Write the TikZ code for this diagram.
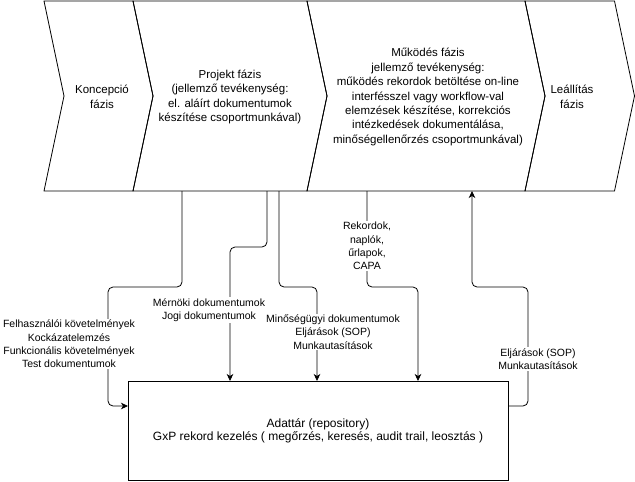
\documentclass[tikz,border=0pt]{standalone}
\usepackage{fontspec}
\setmainfont{Liberation Sans}
\usetikzlibrary{arrows.meta}

\tikzset{
    phase/.style={align=center, font=\fontsize{11.5}{14.4}\selectfont},
    doclabel/.style={align=center, fill=white, inner sep=1pt, font=\fontsize{10.5}{13.4}\selectfont},
    conn/.style={line width=0.8pt, rounded corners=5pt, -{Stealth[length=7pt, width=6.5pt, inset=2pt]}}
}

\begin{document}
\begin{tikzpicture}[x=1pt, y=-1pt]
        \useasboundingbox (0,0) rectangle (635,482);

        \foreach \a/\b in {44/133, 133/307, 307/525, 525/614.5}
        {
            \draw [line width=0.8pt] (\a,1) -- (\b,1) -- (\b+20,96) -- (\b,191) -- (\a,191) -- (\a+20,96) -- cycle;
        }

        \node [phase] (koncepcio) at (102,97) {Koncepció\\fázis};
        \node [phase] (projekt) at (230,97) {Projekt fázis\\(jellemző tevékenység:\\el. aláírt dokumentumok\\készítése csoportmunkával)};
        \node [phase] (mukodes) at (428,97) {Működés fázis\\jellemző tevékenység:\\működés rekordok betöltése on-line\\interfésszel vagy workflow-val\\elemzések készítése, korrekciós\\intézkedések dokumentálása,\\minőségellenőrzés csoportmunkával)};
        \node [phase] (leallitas) at (572,97) {Leállítás\\fázis};

        \node [draw, line width=0.8pt, minimum width=380pt, minimum height=99pt, inner sep=0pt,
               align=center, font=\fontsize{12}{13.3}\selectfont] (adattar) at (318,430.5)
            {Adattár (repository)\\GxP rekord kezelés ( megőrzés, keresés, audit trail, leosztás )};

        \coordinate (projekt-a) at (182,191);
        \coordinate (projekt-b) at (267,191);
        \coordinate (projekt-c) at (279,191);
        \coordinate (mukodes-a) at (367,191);
        \coordinate (mukodes-b) at (472,191);
        \coordinate (adattar-a) at (128,406);
        \coordinate (adattar-b) at (230,381);
        \coordinate (adattar-c) at (317,381);
        \coordinate (adattar-d) at (418,381);
        \coordinate (adattar-e) at (508,406);

        \draw [conn] (projekt-a) -- (182,287) -- (108,287) -- (108,406) -- (adattar-a);
        \draw [conn] (projekt-b) -- (267,247) -- (230,247) -- (adattar-b);
        \draw [conn] (projekt-c) -- (279,287) -- (317,287) -- (adattar-c);
        \draw [conn] (mukodes-a) -- (367,287) -- (418,287) -- (adattar-d);
        \draw [conn] (adattar-e) -- (528,406) -- (528,287) -- (472,287) -- (mukodes-b);

        \node [doclabel] (felhasznaloi) at (69,344) {Felhasználói követelmények\\Kockázatelemzés\\Funkcionális követelmények\\Test dokumentumok};
        \node [doclabel] (mernoki) at (209,310) {Mérnöki dokumentumok\\Jogi dokumentumok};
        \node [doclabel] (minosegugyi) at (333,332) {Minőségügyi dokumentumok\\Eljárások (SOP)\\Munkautasítások};
        \node [doclabel] (rekordok) at (367,246) {Rekordok,\\naplók,\\űrlapok,\\CAPA};
        \node [doclabel] (eljarasok) at (538,359) {Eljárások (SOP)\\Munkautasítások};
    \end{tikzpicture}
\end{document}
